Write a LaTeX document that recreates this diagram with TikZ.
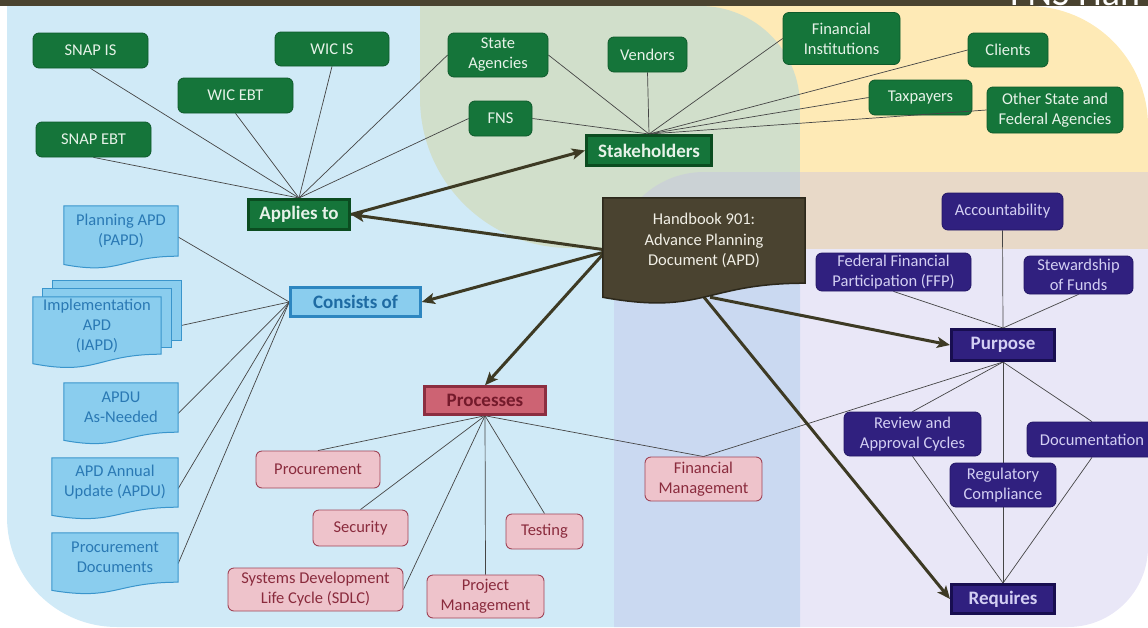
\documentclass[tikz,border=0pt]{standalone}
\usepackage{fontspec}
\setmainfont{Carlito}
\usetikzlibrary{calc,arrows.meta}
\pgfdeclarelayer{bg}
\pgfdeclarelayer{lines}
\pgfdeclarelayer{docs}
\pgfsetlayers{bg,lines,docs,main}

\definecolor{barC}{HTML}{4A4330}
\definecolor{blueBG}{HTML}{D0EAF7}
\definecolor{greenBG}{HTML}{D1DFCB}
\definecolor{yellowBG}{HTML}{FEEAB6}
\definecolor{lavBG}{HTML}{C2BCE9}
\definecolor{gFill}{HTML}{15753A}
\definecolor{gLine}{HTML}{0E5A2B}
\definecolor{gText}{HTML}{E6F2E8}
\definecolor{gMainLine}{HTML}{0B4C20}
\definecolor{bFill}{HTML}{8ACDEE}
\definecolor{bLine}{HTML}{3A95CC}
\definecolor{bText}{HTML}{2A79B4}
\definecolor{bMainText}{HTML}{1E6BA3}
\definecolor{bMainLine}{HTML}{2D86C0}
\definecolor{pFill}{HTML}{EEC3CB}
\definecolor{pLine}{HTML}{A04457}
\definecolor{pText}{HTML}{8A2B3D}
\definecolor{pMainFill}{HTML}{CD6373}
\definecolor{pMainLine}{HTML}{8C2E40}
\definecolor{pMainText}{HTML}{741A2B}
\definecolor{uFill}{HTML}{30207F}
\definecolor{uLine}{HTML}{221665}
\definecolor{uText}{HTML}{D3CFF3}
\definecolor{uMainLine}{HTML}{180E50}
\definecolor{hbFill}{HTML}{4A4330}
\definecolor{hbLine}{HTML}{2C281B}
\definecolor{hbText}{HTML}{F1EFE6}
\definecolor{arrowC}{HTML}{3D3A24}
\definecolor{linkC}{HTML}{454545}

\tikzset{
  sz/.style 2 args={minimum width=#1pt, minimum height=#2pt},
  box/.style={inner sep=0pt, align=center, font=\fontsize{16.5}{20}\selectfont},
  mainfont/.style={font=\fontsize{19}{22}\selectfont\bfseries},
  gleaf/.style={box, rounded corners=6pt, fill=gFill, draw=gLine, line width=0.8pt, text=gText},
  gmain/.style={box, mainfont, fill=gFill, draw=gMainLine, line width=3pt, text=gText},
  bdoc/.style={box, text=bText},
  bdocline/.style={fill=bFill, draw=bLine, line width=1pt},
  bmain/.style={box, mainfont, fill=bFill, draw=bMainLine, line width=2.5pt, text=bMainText},
  pleaf/.style={box, rounded corners=6pt, fill=pFill, draw=pLine, line width=0.9pt, text=pText},
  pmain/.style={box, mainfont, fill=pMainFill, draw=pMainLine, line width=2.5pt, text=pMainText},
  uleaf/.style={box, rounded corners=6pt, fill=uFill, draw=uLine, line width=0.8pt, text=uText},
  umain/.style={box, mainfont, fill=uFill, draw=uMainLine, line width=3pt, text=uText},
  hbnode/.style={box, font=\fontsize{16.5}{20.5}\selectfont, text=hbText},
  hbline/.style={fill=hbFill, draw=hbLine, line width=1.5pt},
  link/.style={draw=linkC, line width=0.7pt},
  bigarrow/.style={draw=arrowC, line width=3pt, -{Stealth[length=13pt,width=11pt,inset=3pt]}}
}

% outline of a page with a wavy lower edge, hung below a named node
\newcommand\docoutline[2]{%
  \path[#1] (#2.north west) -- (#2.north east) -- (#2.south east)
    .. controls (#2.south) and ($(#2.south)!-0.38!(#2.north)$)
    .. ($(#2.south west)!-0.165!(#2.north west)$) -- cycle;}

\begin{document}
\begin{tikzpicture}[x=1pt,y=-1pt]
\useasboundingbox (0,0) rectangle (1148,627);

% ---------- background panels ----------
\begin{pgfonlayer}{bg}
  \begin{scope}
    \clip (7,6) rectangle (800,627);
    \fill[blueBG, rounded corners=110pt] (7,-1000) rectangle (2000,627);
  \end{scope}
  \begin{scope}
    \clip (700,6) rectangle (1148,248);
    \fill[yellowBG, rounded corners=120pt] (-1000,6) rectangle (1148,2000);
  \end{scope}
  \begin{scope}
    \clip (420,6) rectangle (800,248);
    \clip[rounded corners=100pt] (-1000,6) rectangle (800,2000);
    \fill[greenBG, rounded corners=150pt] (420,-1000) rectangle (2000,248);
  \end{scope}
  \begin{scope}
    \clip (614,172) rectangle (1148,627);
    \clip[rounded corners=90pt] (614,172) rectangle (3000,3000);
    \fill[lavBG, fill opacity=0.36, rounded corners=80pt] (-3000,-3000) rectangle (1148,627);
  \end{scope}
  \fill[barC] (0,0) rectangle (1148,6);
\end{pgfonlayer}
\node[anchor=base west, inner sep=0pt, text=white, font=\fontsize{38}{40}\selectfont] (hdr) at (1010,5) {FNS Han};

% ---------- stakeholders / applies to ----------
\node[gleaf, sz={115}{35}] (snapis) at (90.5,50.5) {SNAP IS};
\node[gleaf, sz={114}{34}] (wicis) at (332,49) {WIC IS};
\node[gleaf, sz={115}{35}] (wicebt) at (235.5,95.5) {WIC EBT};
\node[gleaf, sz={115}{35}] (snapebt) at (93.5,139.5) {SNAP EBT};
\node[gleaf, sz={100}{44}] (stateag) at (498,55) {State\\Agencies};
\node[gleaf, sz={79}{35}] (vendors) at (647.5,54.5) {Vendors};
\node[gleaf, sz={63}{35}] (fns) at (500.5,118.5) {FNS};
\node[gleaf, sz={117}{52}] (fininst) at (841.5,38.5) {Financial\\Institutions};
\node[gleaf, sz={80}{34}] (clients) at (1008,50) {Clients};
\node[gleaf, sz={103}{35}] (taxpayers) at (920.5,97.5) {Taxpayers};
\node[gleaf, sz={136}{46}] (otherstate) at (1055,110) {Other State and\\Federal Agencies};
\node[gmain, sz={125}{30}] (stake) at (649,150.5) {Stakeholders};
\node[gmain, sz={101}{30}] (applies) at (299,214.5) {Applies to};

% ---------- consists of ----------
\node[bdoc, sz={114}{50}] (papd) at (121,231) {Planning APD\\(PAPD)};
\node[bdoc, sz={128}{57}] (iapd) at (97,325.5) {Implementation\\APD\\(IAPD)};
\node[bdoc, sz={114}{49}] (apduan) at (121,407.5) {APDU\\As-Needed};
\node[bdoc, sz={126}{49}] (apdu) at (115,482.5) {APD Annual\\Update (APDU)};
\node[bdoc, sz={126}{49}] (procdocs) at (115,557.5) {Procurement\\Documents};
\node[bmain, sz={130}{29}] (consists) at (355.5,302) {Consists of};

% ---------- central document ----------
\node[hbnode, sz={202}{85}] (hb) at (704,240.5) {Handbook 901:\\Advance Planning\\Document (APD)};

% ---------- purpose / requires ----------
\node[uleaf, sz={121}{37}] (acct) at (1002.5,211.5) {Accountability};
\node[uleaf, sz={155}{38}] (ffp) at (893.5,272) {Federal Financial\\Participation (FFP)};
\node[uleaf, sz={109}{38}] (stew) at (1078.5,275) {Stewardship\\of Funds};
\node[umain, sz={103}{31}] (purpose) at (1003,345) {Purpose};
\node[uleaf, sz={137}{44}] (review) at (912.5,434) {Review and\\Approval Cycles};
\node[uleaf, sz={130}{35}] (docu) at (1092,439.5) {Documentation};
\node[uleaf, sz={106}{44}] (regcomp) at (1003,485) {Regulatory\\Compliance};
\node[umain, sz={103}{29}] (requires) at (1003,599) {Requires};

% ---------- processes ----------
\node[pmain, sz={121}{28}] (proc) at (485,400.5) {Processes};
\node[pleaf, sz={124}{37}] (procure) at (318,469.5) {Procurement};
\node[pleaf, sz={95}{36}] (security) at (360.5,528) {Security};
\node[pleaf, sz={77}{35}] (testing) at (544.5,531.5) {Testing};
\node[pleaf, sz={175}{43}] (sdlc) at (315.5,589.5) {Systems Development\\Life Cycle (SDLC)};
\node[pleaf, sz={117}{43}] (projmgmt) at (485.5,596.5) {Project\\Management};
\node[pleaf, sz={117}{44}] (finmgmt) at (703.5,479) {Financial\\Management};

% ---------- page outlines ----------
\begin{pgfonlayer}{docs}
  \docoutline{bdocline}{papd}
  \path[bdocline] ($(iapd.north west)+(20,-16)$) rectangle ($(iapd.south east)+(20,-14)$);
  \path[bdocline] ($(iapd.north west)+(10,-8)$) rectangle ($(iapd.south east)+(10,-7)$);
  \docoutline{bdocline}{iapd}
  \docoutline{bdocline}{apduan}
  \docoutline{bdocline}{apdu}
  \docoutline{bdocline}{procdocs}
  \docoutline{hbline}{hb}
\end{pgfonlayer}

% ---------- connectors ----------
\begin{pgfonlayer}{lines}
  \foreach \n in {snapis,wicis,wicebt,snapebt}
    \draw[link] (\n.south) -- (applies.north);
  \draw[link] (stateag.west) -- (applies.north);
  \draw[link] (fns.west) -- (applies.north);

  \draw[link] (stateag.east) -- (stake.north);
  \draw[link] (vendors.south) -- (stake.north);
  \draw[link] (fns.east) -- (stake.north);
  \foreach \n in {fininst,clients,taxpayers}
    \draw[link] (\n.west) -- (stake.north);

  \foreach \n in {papd,apduan,apdu,procdocs}
    \draw[link] ([yshift=-6pt]\n.east) -- (consists.west);
  \draw[link] ([xshift=20pt]iapd.east) -- (consists.west);

  \foreach \n in {procure,security,projmgmt,testing,finmgmt}
    \draw[link] (proc.south) -- (\n.north);
  \draw[link] (proc.south) -- (sdlc.east);

  \foreach \n in {acct,ffp,stew}
    \draw[link] (\n.south) -- (purpose.north);
  \foreach \n in {review,regcomp,docu,finmgmt}
    \draw[link] (purpose.south) -- (\n.north);
  \foreach \n in {review,regcomp,docu}
    \draw[link] (\n.south) -- (requires.north);

  \draw[bigarrow] ([yshift=-9pt]hb.west) -- (applies.east);
  \draw[bigarrow] (applies.east) -- (stake.west);
  \draw[bigarrow] ([yshift=-12pt]hb.west) -- (consists.east);
  \draw[bigarrow] ([yshift=-14pt]hb.west) -- (proc.north);
  \draw[bigarrow] ([xshift=6pt,yshift=-14pt]hb.south) -- (purpose.west);
  \draw[bigarrow] ([yshift=-14pt]hb.south) -- (requires.west);
\end{pgfonlayer}
\draw[link] (otherstate.west) -- (stake.north);

\end{tikzpicture}
\end{document}
